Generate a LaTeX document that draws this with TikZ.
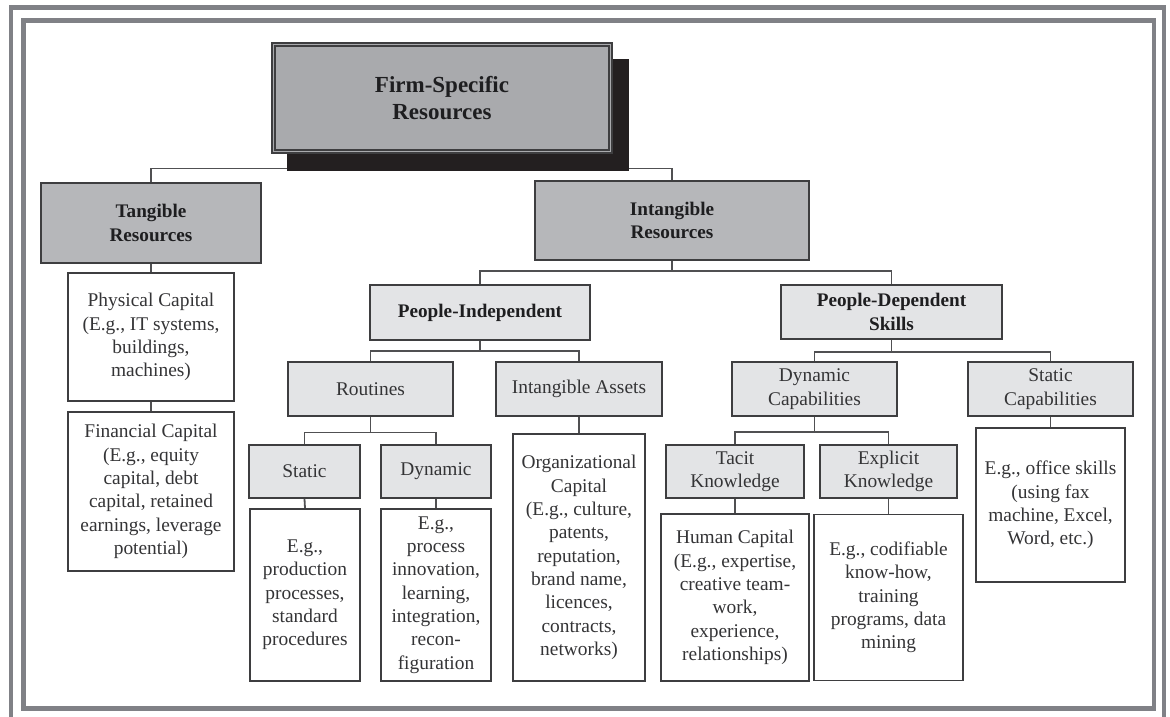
\documentclass[tikz,border=0pt]{standalone}
\usepackage{fontspec}
\setmainfont{Liberation Serif}
\usetikzlibrary{backgrounds}

\definecolor{framegray}{RGB}{128,129,134}
\definecolor{boxline}{RGB}{62,62,64}
\definecolor{linkgray}{RGB}{80,80,82}
\definecolor{topfill}{RGB}{169,170,173}
\definecolor{midfill}{RGB}{182,183,186}
\definecolor{lightfill}{RGB}{227,228,230}
\definecolor{shadowc}{RGB}{35,31,32}
\definecolor{bodytext}{RGB}{52,52,54}
\definecolor{headtext}{RGB}{30,30,32}

\newcommand\txtreg{\fontsize{19.4}{23.3}\selectfont}
\newcommand\txtbold{\fontsize{19.2}{23.2}\selectfont\bfseries}
\newcommand\txtbig{\fontsize{23}{27.4}\selectfont\bfseries}

\begin{document}
\begin{tikzpicture}[x=1pt,y=-1pt,
  box/.style={draw=boxline, line width=1.8pt, inner sep=0pt, align=center,
    fill=white, text=bodytext, font=\txtreg},
  topbox/.style={box, fill=topfill, text=headtext, font=\txtbig, line width=2pt},
  mainbox/.style={box, fill=midfill, text=headtext, font=\txtbold},
  groupbox/.style={box, fill=lightfill, text=headtext, font=\txtbold},
  catbox/.style={box, fill=lightfill},
  link/.style={draw=linkgray, line width=1.8pt},
  framerule/.style={draw=framegray, line width=4.5pt}]
\useasboundingbox (0,0) rectangle (1170,717);

% page frame: outer rule open at the bottom, inner closed rule
\draw[framerule] (11,740) -- (11,7.5) -- (1164,7.5) -- (1164,740);
\draw[framerule] (23.5,20.5) rectangle (1154,708.5);

% root
\node[topbox, minimum width=340, minimum height=110] (firm) at (442,98)
  {Firm-Specific\\Resources};
\draw[boxline, line width=1.3pt] ([shift={(4,4)}]firm.north west)
  rectangle ([shift={(-4,-4)}]firm.south east);

% first level
\node[mainbox, minimum width=220, minimum height=80] (tang) at (151,223)
  {Tangible\\Resources};
\node[mainbox, minimum width=274, minimum height=79] (intang) at (672,220.5)
  {Intangible\\Resources};

% tangible resources
\node[box, minimum width=166, minimum height=128] (phys) at (151,337)
  {Physical Capital\\(E.g., IT systems,\\buildings,\\machines)};
\node[box, minimum width=166, minimum height=159] (fin) at (151,491.5)
  {Financial Capital\\(E.g., equity\\capital, debt\\capital, retained\\earnings, leverage\\potential)};

% intangible resources
\node[groupbox, minimum width=220, minimum height=55] (pind) at (480,312.5)
  {People-Independent};
\node[groupbox, minimum width=221, minimum height=54] (pdep) at (891.5,312)
  {People-Dependent\\Skills};

\node[catbox, minimum width=165, minimum height=54] (rout) at (370.5,389)
  {Routines};
\node[catbox, minimum width=166, minimum height=54] (iass) at (579,389)
  {Intangible Assets};
\node[catbox, minimum width=165, minimum height=54] (dcap) at (814.5,389)
  {Dynamic\\Capabilities};
\node[catbox, minimum width=165, minimum height=54] (scap) at (1050.5,389)
  {Static\\Capabilities};

\node[catbox, minimum width=111, minimum height=53] (stat) at (304.5,471.5)
  {Static};
\node[catbox, minimum width=110, minimum height=53] (dyn) at (436,471.5)
  {Dynamic};
\node[catbox, minimum width=138, minimum height=53] (tacit) at (735,471.5)
  {Tacit\\Knowledge};
\node[catbox, minimum width=137, minimum height=53] (expl) at (888.5,471.5)
  {Explicit\\Knowledge};

% examples
\node[box, minimum width=110, minimum height=172] (statex) at (305,595)
  {E.g.,\\production\\processes,\\standard\\procedures};
\node[box, minimum width=110, minimum height=172] (dynex) at (436,595)
  {E.g.,\\process\\innovation,\\learning,\\integration,\\recon-\\figuration};
\node[box, minimum width=132, minimum height=247] (org) at (579,557.5)
  {Organizational\\Capital\\(E.g., culture,\\patents,\\reputation,\\brand name,\\licences,\\contracts,\\networks)};
\node[box, minimum width=148, minimum height=167] (human) at (735,597.5)
  {Human Capital\\(E.g., expertise,\\creative team-\\work,\\experience,\\relationships)};
\node[box, minimum width=149, minimum height=166] (explex) at (888.5,597.5)
  {E.g., codifiable\\know-how,\\training\\programs, data\\mining};
\node[box, minimum width=149, minimum height=154] (office) at (1050.5,505)
  {E.g., office skills\\(using fax\\machine, Excel,\\Word, etc.)};

% junction heights of the tree
\coordinate (j0) at (442,168.5);
\coordinate (j1) at (672,271);
\coordinate (j2) at (480,351);
\coordinate (j3) at (891.5,352);
\coordinate (j4) at (370.5,432.5);
\coordinate (j5) at (814.5,432);

\begin{pgfonlayer}{background}
  \draw[link] (firm.south) -- (j0) -| (tang.north);
  \draw[link] (j0) -| (intang.north);
  \draw[link] (tang.south) -- (phys.north);
  \draw[link] (phys.south) -- (fin.north);
  \draw[link] (intang.south) -- (j1) -| (pind.north);
  \draw[link] (j1) -| (pdep.north);
  \draw[link] (pind.south) -- (j2) -| (rout.north);
  \draw[link] (j2) -| (iass.north);
  \draw[link] (pdep.south) -- (j3) -| (dcap.north);
  \draw[link] (j3) -| (scap.north);
  \draw[link] (rout.south) -- (j4) -| (stat.north);
  \draw[link] (j4) -| (dyn.north);
  \draw[link] (dcap.south) -- (j5) -| (tacit.north);
  \draw[link] (j5) -| (expl.north);
  \draw[link] (iass.south) -- (org.north);
  \draw[link] (scap.south) -- (office.north);
  \draw[link] (stat.south) -- (statex.north);
  \draw[link] (dyn.south) -- (dynex.north);
  \draw[link] (tacit.south) -- (human.north);
  \draw[link] (expl.south) -- (explex.north);
  % drop shadow of the root box, above its own connector
  \fill[shadowc] ([shift={(16,17)}]firm.north west)
    rectangle ([shift={(16,17)}]firm.south east);
\end{pgfonlayer}
\end{tikzpicture}
\end{document}
